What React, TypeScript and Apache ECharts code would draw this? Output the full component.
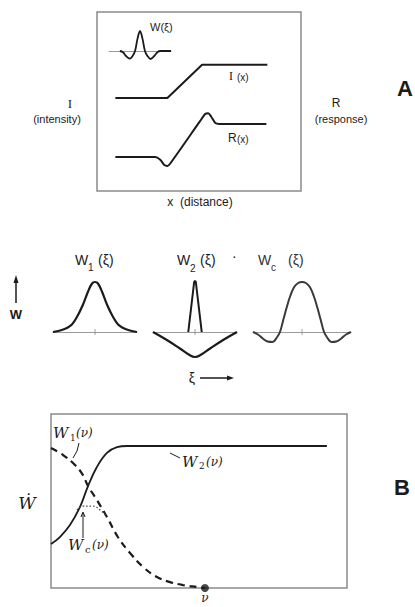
import React, { useEffect, useRef } from "react";
import * as echarts from "echarts";

// ---- Panel A: intensity I(x) and response R(x) along distance x (0–20) ----
const intensityX = [1.8, 6.9, 10.3, 16.7];
const intensityY = [10.4, 10.4, 14.1, 14.1];
const responseX = [1.8, 5.7, 6.2, 6.6, 6.9, 7.2, 10.1, 10.6, 10.9, 11.2, 11.6, 12.0, 16.6];
const responseY = [3.8, 3.8, 3.5, 2.9, 2.8, 3.1, 7.8, 8.6, 8.7, 8.3, 7.6, 7.5, 7.5];

// weighting function W(ξ) inset (center-surround)
const wXi = [-0.65, -0.55, -0.45, -0.33, -0.24, -0.16, -0.08, 0, 0.08, 0.16, 0.24, 0.34, 0.46, 0.56, 0.66, 1];
const wVal = [0, -0.06, -0.25, -0.38, -0.25, 0, 0.62, 1, 0.62, 0, -0.25, -0.4, -0.25, -0.06, 0, 0];

// ---- Weighting functions W1, W2, Wc versus ξ ----
const w1Xi = [-1, -0.83, -0.67, -0.55, -0.43, -0.29, -0.17, -0.07, 0, 0.07, 0.17, 0.29, 0.43, 0.55, 0.67, 0.83, 1];
const w1Val = [0, 0.03, 0.08, 0.15, 0.3, 0.54, 0.8, 0.97, 1, 0.97, 0.8, 0.54, 0.3, 0.15, 0.08, 0.03, 0];

const w2SpikeXi = [-0.16, -0.02, 0, 0.02, 0.16];
const w2SpikeVal = [0, 1.0, 1.02, 1.0, 0];
const w2SurroundXi = [-1, -0.67, -0.36, -0.15, 0, 0.15, 0.36, 0.67, 1];
const w2SurroundVal = [0, -0.16, -0.33, -0.45, -0.5, -0.45, -0.33, -0.16, 0];

const wcXi = [-1, -0.9, -0.8, -0.7, -0.6, -0.52, -0.45, -0.38, -0.31, -0.24, -0.16, -0.08, 0,
  0.08, 0.16, 0.24, 0.31, 0.38, 0.45, 0.52, 0.6, 0.7, 0.8, 0.9, 1];
const wcVal = [0, -0.05, -0.13, -0.19, -0.2, -0.12, 0, 0.25, 0.5, 0.72, 0.9, 0.98, 1,
  0.98, 0.9, 0.72, 0.5, 0.25, 0, -0.12, -0.2, -0.19, -0.13, -0.05, 0];

// ---- Panel B: frequency responses versus ν (0–1) ----
const w2NuX = [0, 0.03, 0.064, 0.098, 0.125, 0.155, 0.189, 0.223, 0.257, 0.932];
const w2NuY = [0.253, 0.293, 0.362, 0.466, 0.586, 0.695, 0.776, 0.81, 0.816, 0.816];
const w1NuX = [0, 0.041, 0.081, 0.108, 0.125, 0.155, 0.189, 0.226, 0.267, 0.311, 0.358, 0.402, 0.446, 0.493, 0.52];
const w1NuY = [0.805, 0.764, 0.707, 0.649, 0.586, 0.506, 0.408, 0.293, 0.201, 0.121, 0.063, 0.034, 0.017, 0.006, 0];
const wcNuX = [0.088, 0.108, 0.139, 0.166, 0.189];
const wcNuY = [0.448, 0.471, 0.471, 0.448, 0.408];
const cutoffNu = [0.52];

const INK = "#1b1b1b";
const FRAME = "#8a8a8a";
const SANS = "'Liberation Sans', Arial, sans-serif";
const SCRIPT = "'DejaVu Serif', serif";

const zip = (xs: number[], ys: number[]) => xs.map((x, i) => [x, ys[i]]);

function txt(x: number, y: number, text: string, size: number, opts: any = {}) {
  return {
    type: "text",
    x,
    y,
    silent: true,
    style: {
      text,
      fill: opts.fill || INK,
      font: `${opts.style || "normal"} ${opts.weight || "normal"} ${size}px ${opts.family || SANS}`,
      align: opts.align || "left",
      verticalAlign: "middle",
    },
  };
}

function seg(points: number[][], width = 1.2, color = INK) {
  return {
    type: "polyline",
    silent: true,
    shape: { points },
    style: { stroke: color, lineWidth: width, fill: "none" },
  };
}

function head(points: number[][], color = INK) {
  return { type: "polygon", silent: true, shape: { points }, style: { fill: color } };
}

export default function App() {
  const ref = useRef<HTMLDivElement>(null);

  useEffect(() => {
    if (!ref.current) return;
    const chart = echarts.init(ref.current, undefined, { renderer: "svg" });

    const hiddenAxis = (gridIndex: number, min: number, max: number) => ({
      type: "value",
      gridIndex,
      min,
      max,
      show: false,
      splitLine: { show: false },
    });
    const baseAxis = (gridIndex: number) => ({
      type: "value",
      gridIndex,
      min: -1,
      max: 1,
      axisLine: { show: true, onZero: true, lineStyle: { color: "#9a9a9a", width: 1 } },
      axisTick: { show: false },
      axisLabel: { show: false },
      splitLine: { show: false },
    });
    const line = (xi: number, yi: number, data: number[][], extra: any = {}) => ({
      type: "line",
      xAxisIndex: xi,
      yAxisIndex: yi,
      data,
      symbol: "none",
      silent: true,
      smooth: extra.smooth ?? false,
      lineStyle: { color: extra.color || INK, width: extra.width || 2, type: extra.type || "solid" },
      z: 3,
    });
    const centerTick = (i: number) => ({
      type: "scatter",
      xAxisIndex: i,
      yAxisIndex: i,
      data: [[0, 0]],
      symbol: "rect",
      symbolSize: [1, 6],
      itemStyle: { color: "#8a8a8a" },
      silent: true,
      z: 2,
    });

    chart.setOption({
      animation: false,
      grid: [
        { left: 97, top: 12, width: 204, height: 179, show: true, borderColor: FRAME, borderWidth: 1.5 },
        { left: 109, top: 28, width: 62, height: 34 },
        { left: 53, top: 280, width: 84, height: 80 },
        { left: 153, top: 280, width: 84, height: 80 },
        { left: 253, top: 280, width: 98, height: 80 },
        { left: 51, top: 414, width: 296, height: 174, show: true, borderColor: FRAME, borderWidth: 1.5 },
      ],
      xAxis: [
        hiddenAxis(0, 0, 20),
        baseAxis(1),
        baseAxis(2),
        baseAxis(3),
        baseAxis(4),
        hiddenAxis(5, 0, 1),
      ],
      yAxis: [
        hiddenAxis(0, 0, 20),
        hiddenAxis(1, -0.55, 1.15),
        hiddenAxis(2, -0.56, 1.04),
        hiddenAxis(3, -0.56, 1.04),
        hiddenAxis(4, -0.56, 1.04),
        hiddenAxis(5, 0, 1),
      ],
      series: [
        line(0, 0, zip(intensityX, intensityY), { width: 2 }),
        line(0, 0, zip(responseX, responseY), { width: 2, smooth: 0.25 }),
        line(1, 1, zip(wXi, wVal), { width: 1.8, smooth: 0.35 }),
        line(2, 2, zip(w1Xi, w1Val), { width: 2.2, smooth: 0.4 }),
        centerTick(2),
        line(3, 3, zip(w2SpikeXi, w2SpikeVal), { width: 2 }),
        line(3, 3, zip(w2SurroundXi, w2SurroundVal), { width: 2.2, smooth: 0.4 }),
        centerTick(3),
        line(4, 4, zip(wcXi, wcVal), { width: 2, smooth: 0.4, color: "#3a3a3a" }),
        centerTick(4),
        line(5, 5, zip(w2NuX, w2NuY), { width: 1.8, smooth: 0.4 }),
        line(5, 5, zip(w1NuX, w1NuY), { width: 2.2, smooth: 0.4, type: [7, 5] }),
        line(5, 5, zip(wcNuX, wcNuY), { width: 1.3, smooth: 0.5, type: [1.5, 2], color: "#444" }),
        {
          type: "scatter",
          xAxisIndex: 5,
          yAxisIndex: 5,
          data: cutoffNu.map((v) => [v, 0]),
          symbol: "circle",
          symbolSize: 8,
          itemStyle: { color: INK },
          silent: true,
          z: 4,
        },
      ],
      graphic: [
        // panel A labels
        txt(150, 27, "W(ξ)", 11),
        txt(229, 76, "I", 12, { family: "'Liberation Serif', serif" }),
        txt(237, 77, "(x)", 10),
        txt(228, 138, "R", 12),
        txt(237, 139, "(x)", 10),
        txt(70, 103, "I", 13, { family: "'Liberation Serif', serif", align: "center" }),
        txt(57, 119, "(intensity)", 11, { align: "center" }),
        txt(336, 103, "R", 12, { align: "center" }),
        txt(341, 119, "(response)", 11, { align: "center" }),
        txt(200, 202, "x  (distance)", 12, { align: "center" }),
        txt(405, 88, "A", 22, { weight: "bold", align: "center" }),

        // weighting function titles
        txt(75, 260, "W", 14),
        txt(88, 267, "1", 10),
        txt(98, 260, "(ξ)", 14),
        txt(177, 260, "W", 14),
        txt(190, 268, "2", 10),
        txt(200, 260, "(ξ)", 14),
        txt(232, 256, "·", 14),
        txt(258, 260, "W", 14, { fill: "#333" }),
        txt(271, 267, "c", 10, { fill: "#333" }),
        txt(288, 260, "(ξ)", 14, { fill: "#333" }),

        // W axis arrow and ξ arrow
        seg([[16, 303], [16, 281]], 1.5),
        head([[16, 275], [13.5, 283], [18.5, 283]]),
        txt(16, 314, "W", 13, { weight: "bold", align: "center" }),
        txt(192, 378, "ξ", 14, { align: "center" }),
        seg([[200, 378], [228, 378]], 1.5),
        head([[234, 378], [227, 375.5], [227, 380.5]]),

        // panel B labels
        txt(402, 487, "B", 22, { weight: "bold", align: "center" }),
        txt(27, 503, "Ẇ", 17, { style: "italic", family: SCRIPT, align: "center" }),
        txt(205, 598, "ν", 12, { style: "italic", family: SCRIPT, align: "center" }),
        txt(53, 433, "W", 15, { style: "italic", family: SCRIPT }),
        txt(70, 438, "1", 9, { family: SCRIPT }),
        txt(76, 433, "(ν)", 12, { style: "italic", family: SCRIPT }),
        seg([[79, 443], [77, 451], [73, 458]], 1),
        txt(182, 462, "W", 15, { style: "italic", family: SCRIPT }),
        txt(199, 466, "2", 9, { family: SCRIPT }),
        txt(206, 462, "(ν)", 12, { style: "italic", family: SCRIPT }),
        seg([[170, 453], [176, 456], [180, 458]], 1),
        txt(68, 545, "W", 15, { style: "italic", family: SCRIPT }),
        txt(85, 549, "c", 10, { family: SCRIPT }),
        txt(92, 545, "(ν)", 12, { style: "italic", family: SCRIPT }),
        seg([[83, 538], [83, 513]], 1),
        seg([[81, 517], [83, 512], [85, 517]], 1),
      ],
    });

    return () => chart.dispose();
  }, []);

  return (
    <div
      ref={ref}
      style={{ position: "absolute", left: 0, top: 0, width: 415, height: 607, background: "#fff" }}
    />
  );
}
